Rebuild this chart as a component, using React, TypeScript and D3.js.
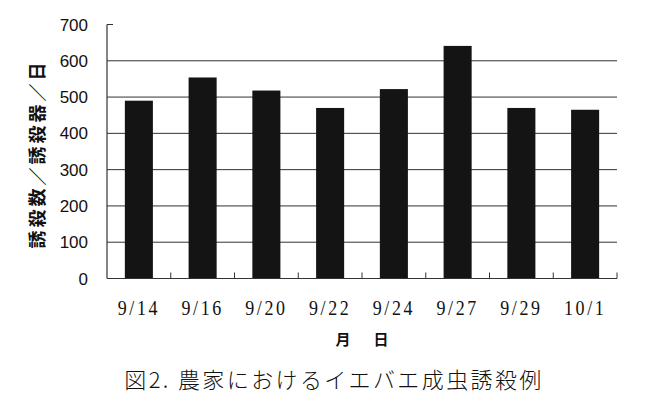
import React from "react";
import * as d3 from "d3";

const categories = ["9/14", "9/16", "9/20", "9/22", "9/24", "9/27", "9/29", "10/1"];
const values = [490, 554, 518, 470, 522, 641, 470, 465];
const yTicks = [0, 100, 200, 300, 400, 500, 600, 700];
const yTitle = "誘殺数／誘殺器／日";
const xTitle = "月　日";
const caption = "図2. 農家におけるイエバエ成虫誘殺例";

const W = 647;
const H = 403;
const m = { left: 107, right: 30, top: 24.5, bottom: 124.5 };

export default function App() {
  const x = d3
    .scaleBand<string>()
    .domain(categories)
    .range([m.left, W - m.right])
    .paddingInner(0.56)
    .paddingOuter(0.28);
  const y = d3.scaleLinear().domain([0, 700]).range([H - m.bottom, m.top]);
  const step = x.step();
  const x0 = m.left;
  const x1 = W - m.right;
  const y0 = y(0);

  return (
    <svg
      width={W}
      height={H}
      style={{ position: "absolute", left: 0, top: 0, background: "#fff" }}
    >
      {/* gridlines */}
      {yTicks
        .filter((t) => t > 0 && t < 700)
        .map((t) => (
          <line key={t} x1={x0} x2={x1} y1={y(t)} y2={y(t)} stroke="#333" strokeWidth={1} />
        ))}
      {/* top tick */}
      <line x1={x0} x2={x0 + 6} y1={y(700)} y2={y(700)} stroke="#333" strokeWidth={1} />
      {/* bars */}
      {categories.map((c, i) => (
        <rect
          key={c}
          x={x(c)}
          y={y(values[i])}
          width={x.bandwidth()}
          height={y0 - y(values[i])}
          fill="#141414"
        />
      ))}
      {/* axes */}
      <line x1={x0} x2={x0} y1={y(700)} y2={y0} stroke="#333" strokeWidth={1.2} />
      <line x1={x0} x2={x1} y1={y0} y2={y0} stroke="#333" strokeWidth={1.2} />
      {categories.map((c, i) => {
        const tx = x0 + step * (i + 1);
        return <line key={"t" + c} x1={tx} x2={tx} y1={y0} y2={y0 - 6} stroke="#333" strokeWidth={1} />;
      })}
      {/* y tick labels */}
      {yTicks.map((t) => (
        <text
          key={"l" + t}
          x={88}
          y={y(t)}
          dy="0.36em"
          textAnchor="end"
          fontFamily="'Liberation Sans', Arial, sans-serif"
          fontSize={17}
          fill="#111"
        >
          {t}
        </text>
      ))}
      {/* x tick labels */}
      {categories.map((c) => (
        <text
          key={"x" + c}
          transform={`translate(${(x(c) as number) + x.bandwidth() / 2}, 315) scale(1, 1.12)`}
          textAnchor="middle"
          fontFamily="'Liberation Serif', serif"
          fontSize={18}
          style={{ letterSpacing: "2.6px" }}
          fill="#111"
        >
          {c}
        </text>
      ))}
      {/* x title */}
      <text
        x={(x0 + x1) / 2 + 2}
        y={345}
        textAnchor="middle"
        fontFamily="'Noto Sans CJK JP', sans-serif"
        fontWeight="bold"
        fontSize={15}
        style={{ letterSpacing: "4px" }}
        fill="#111"
      >
        {xTitle}
      </text>
      {/* y title */}
      <text
        transform={`translate(38, 154) rotate(-90)`}
        textAnchor="middle"
        dy="0.36em"
        fontFamily="'Noto Sans CJK JP', sans-serif"
        fontWeight="bold"
        fontSize={18}
        style={{ letterSpacing: "3px" }}
        fill="#111"
      >
        {yTitle}
      </text>
      {/* caption */}
      <text
        x={334}
        y={388}
        textAnchor="middle"
        fontFamily="'Noto Sans CJK JP', sans-serif"
        fontWeight={300}
        fontSize={22}
        style={{ letterSpacing: "2.4px" }}
        fill="#111"
      >
        {caption}
      </text>
    </svg>
  );
}
